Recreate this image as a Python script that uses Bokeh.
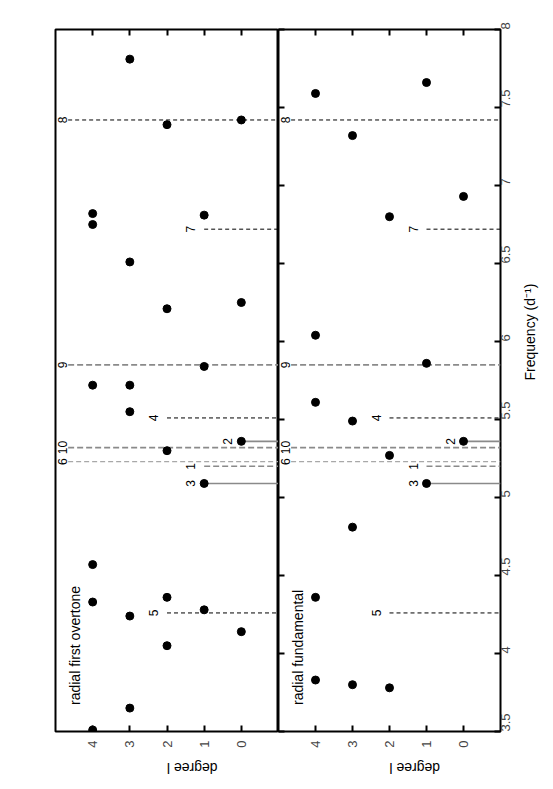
import math
from bokeh.plotting import figure
from bokeh.models import Range1d, LinearAxis, FixedTicker, ColumnDataSource
from bokeh.layouts import row
from bokeh.core.properties import value
from bokeh.embed import file_html
from bokeh.resources import INLINE

FONT = "Liberation Sans"

# ---------------- data ----------------
degree_ticks = [0, 1, 2, 3, 4]
freq_ticks = [3.5, 4, 4.5, 5, 5.5, 6, 6.5, 7, 7.5, 8]

# radial first overtone model: degree l and frequency (d^-1)
overtone_degree = [4, 4, 4, 4, 4, 4,
                   3, 3, 3, 3, 3, 3,
                   2, 2, 2, 2, 2,
                   1, 1, 1, 1,
                   0, 0, 0, 0]
overtone_freq = [6.82, 6.75, 5.72, 4.57, 4.33, 3.51,
                 7.81, 6.51, 5.72, 5.55, 4.24, 3.65,
                 7.39, 6.21, 5.30, 4.36, 4.05,
                 6.81, 5.84, 5.09, 4.28,
                 7.42, 6.25, 5.36, 4.14]

# radial fundamental model
fundamental_degree = [4, 4, 4, 4, 4,
                      3, 3, 3, 3,
                      2, 2, 2,
                      1, 1, 1,
                      0, 0]
fundamental_freq = [7.59, 6.04, 5.61, 4.36, 3.83,
                    7.32, 5.49, 4.81, 3.80,
                    6.80, 5.27, 3.78,
                    7.66, 5.86, 5.09,
                    6.93, 5.36]

# observed modes: number, frequency, identified degree (None = not identified), kind
mode_number = ["1", "2", "3", "4", "5", "6", "7", "8", "9", "10"]
mode_freq = [5.20, 5.36, 5.09, 5.51, 4.26, 5.23, 6.72, 7.42, 5.85, 5.32]
mode_degree = [1, 0, 1, 2, 2, None, 1, None, None, None]
mode_kind = ["grey", "solid", "solid", "black", "black", "faint", "black", "black", "grey", "grey"]

panel_titles = ["radial first overtone", "radial fundamental"]

# ---------------- styles ----------------
EDGE_START = 4.66
LABEL_EDGE = 4.80
LABEL_OFFSET = 0.36
styles = {
    "black": dict(line_color="black", line_width=1, line_dash="4 3"),
    "grey": dict(line_color="#8a8a8a", line_width=1.6, line_dash="6 3"),
    "faint": dict(line_color="#a8a8a8", line_width=1.2, line_dash="5 3"),
    "solid": dict(line_color="#8a8a8a", line_width=1.6, line_dash="solid"),
}

y_range = Range1d(3.5, 8)


def mode_sources(kind):
    xs0, ys = [], []
    for f, d, k in zip(mode_freq, mode_degree, mode_kind):
        if k != kind:
            continue
        xs0.append(EDGE_START if d is None else d)
        ys.append(f)
    return ColumnDataSource(dict(x0=xs0, x1=[-1] * len(xs0), y=ys))


def label_source():
    xs, ys, txt = [], [], []
    for n, f, d in zip(mode_number, mode_freq, mode_degree):
        xs.append(LABEL_EDGE if d is None else d + LABEL_OFFSET)
        ys.append(f)
        txt.append(n)
    return ColumnDataSource(dict(x=xs, y=ys, text=txt))


def blank_axis(ticks):
    return LinearAxis(ticker=FixedTicker(ticks=ticks),
                      major_label_overrides={t: "" for t in ticks},
                      major_tick_in=6, major_tick_out=0,
                      major_tick_line_width=2,
                      minor_tick_line_color=None,
                      axis_line_color=None,
                      major_label_standoff=0,
                      major_label_text_font_size="1px")


def make_panel(idx, degrees, freqs, width, mbl, mbr, right_axis):
    p = figure(width=width, height=789,
               x_range=Range1d(5, -1), y_range=y_range,
               x_axis_location="below",
               y_axis_location="right" if right_axis else None,
               toolbar_location=None, output_backend="svg",
               min_border_left=mbl, min_border_right=mbr,
               min_border_top=29, min_border_bottom=58)
    p.grid.visible = False
    p.outline_line_color = "black"
    p.outline_line_width = 2
    p.background_fill_color = "white"
    p.border_fill_color = "white"

    ax = p.xaxis[0]
    ax.ticker = FixedTicker(ticks=degree_ticks)
    ax.major_tick_in = 6
    ax.major_tick_out = 0
    ax.major_tick_line_width = 2
    ax.minor_tick_line_color = None
    ax.axis_line_color = None
    ax.major_label_orientation = math.pi / 2
    ax.major_label_standoff = 9
    ax.major_label_text_font = FONT
    ax.major_label_text_font_size = "13px"
    ax.axis_label = "degree l"
    ax.axis_label_orientation = math.pi
    ax.axis_label_standoff = 17
    ax.axis_label_text_font = FONT
    ax.axis_label_text_font_size = "14px"
    ax.axis_label_text_font_style = "normal"
    ax.axis_label_text_color = "black"

    p.add_layout(blank_axis(degree_ticks), "above")

    if right_axis:
        ya = p.yaxis[0]
        ya.ticker = FixedTicker(ticks=freq_ticks)
        ya.major_tick_in = 6
        ya.major_tick_out = 0
        ya.major_tick_line_width = 2
        ya.minor_tick_line_color = None
        ya.axis_line_color = None
        ya.major_label_orientation = math.pi / 2
        ya.major_label_standoff = 5
        ya.major_label_text_font = FONT
        ya.major_label_text_font_size = "13px"
        ya.axis_label = "Frequency (d\u207b\u00b9)"
        ya.axis_label_orientation = math.pi / 2
        ya.axis_label_standoff = 12
        ya.axis_label_text_font = FONT
        ya.axis_label_text_font_size = "14px"
        ya.axis_label_text_font_style = "normal"
        ya.axis_label_text_color = "black"
        p.add_layout(blank_axis(freq_ticks), "left")

    for kind, st in styles.items():
        src = mode_sources(kind)
        p.segment(x0="x0", x1="x1", y0="y", y1="y", source=src, **st)

    p.text(x="x", y="y", text="text", source=label_source(),
           angle=math.pi / 2, text_align="center", text_baseline="middle",
           text_font=value(FONT), text_font_size="12px", text_color="black")

    p.scatter(x=degrees, y=freqs, size=8, fill_color="black", line_color="black")

    p.text(x=[4.47], y=[3.67], text=[panel_titles[idx]], angle=math.pi / 2,
           text_align="left", text_baseline="middle",
           text_font=value(FONT), text_font_size="14px", text_color="black")
    return p


p1 = make_panel(0, overtone_degree, overtone_freq, 278, 55, 0, False)
p2 = make_panel(1, fundamental_degree, fundamental_freq, 274, 0, 52, True)

layout = row(p1, p2)
open("out.html", "w").write(file_html(layout, INLINE))
